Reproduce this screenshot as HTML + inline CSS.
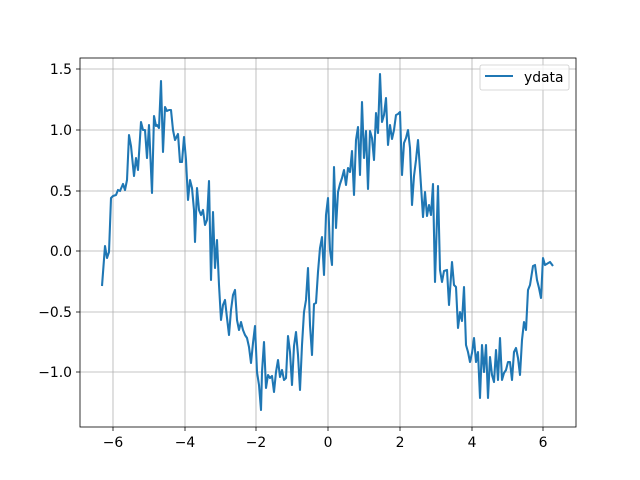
<!DOCTYPE html>
<html><head><meta charset="utf-8"><style>
body{margin:0;background:#fff;}
svg{display:block;font-family:"DejaVu Sans","Liberation Sans",sans-serif;}
</style></head><body>
<svg width="640" height="480" xmlns="http://www.w3.org/2000/svg">
<rect width="640" height="480" fill="#fff"/>
<g stroke="#b0b0b0" stroke-width="0.8">
<line x1="113" y1="58" x2="113" y2="427"/><line x1="185" y1="58" x2="185" y2="427"/><line x1="256" y1="58" x2="256" y2="427"/><line x1="328" y1="58" x2="328" y2="427"/><line x1="400" y1="58" x2="400" y2="427"/><line x1="472" y1="58" x2="472" y2="427"/><line x1="543" y1="58" x2="543" y2="427"/>
<line x1="80" y1="69" x2="576" y2="69"/><line x1="80" y1="130" x2="576" y2="130"/><line x1="80" y1="191" x2="576" y2="191"/><line x1="80" y1="251" x2="576" y2="251"/><line x1="80" y1="312" x2="576" y2="312"/><line x1="80" y1="372" x2="576" y2="372"/>
</g>
<polyline fill="none" stroke="#1f77b4" stroke-width="2.08" stroke-linejoin="round" points="102,286 105,246 107,258 109,252 111,198 113,196 116,195 118,190 120,191 123,184 125,190 127,180 129,135 131,146 134,176 136,158 138,170 141,122 143,130 145,130 147,158 149,125 152,193 154,116 156,126 157,125 159,128 161,81 163,152 165,107 167,111 169,110 171,110 173,130 175,140 178,134 180,162 182,162 184,137 186,160 188,200 190,180 192,188 194,210 195,242 197,188 199,210 201,215 203,210 205,225 207,220 209,181 211,280 213,212 215,268 217,240 219,285 221,320 223,305 225,300 227,318 229,335 231,310 233,295 235,290 237,320 239,330 241,322 243,330 245,335 247,338 249,347 251,363 253,343 255,326 257,372 259,385 261,410 262,372 264,342 266,388 268,375 270,378 272,376 274,392 276,372 278,360 280,377 282,370 284,380 286,378 288,336 290,352 292,385 294,346 296,332 298,355 300,390 302,345 304,312 306,300 308,268 310,325 312,355 314,304 316,303 318,272 320,248 322,237 324,275 326,215 328,198 330,250 332,265 334,167 336,228 338,192 340,184 342,178 344,170 346,185 348,168 350,172 352,151 354,195 356,140 358,127 360,175 362,102 364,158 366,131 368,189 370,131 372,138 374,160 376,113 378,133 380,74 382,122 384,115 386,98 388,145 390,125 392,139 394,130 396,115 398,114 400,112 402,175 404,143 406,138 408,130 410,148 412,205 414,176 416,160 418,140 420,170 423,217 425,192 427,216 429,205 431,215 433,184 435,282 438,186 440,270 442,282 444,271 447,270 449,305 452,262 454,285 456,287 458,328 460,312 462,321 464,287 466,345 468,352 470,362 472,353 474,338 476,362 478,352 480,398 482,345 484,372 486,345 488,398 490,357 492,375 494,382 496,350 498,380 500,338 502,380 504,373 506,370 508,362 510,362 512,380 514,352 516,348 518,358 520,375 522,340 524,322 526,330 528,290 530,285 533,266 535,265 537,280 539,288 541,298 543,258 545,265 550,262 553,266"/>
<rect x="80" y="58" width="496" height="369" fill="none" stroke="#000" stroke-width="0.8"/>
<g stroke="#000" stroke-width="0.8">
<line x1="113" y1="427" x2="113" y2="431"/><line x1="185" y1="427" x2="185" y2="431"/><line x1="256" y1="427" x2="256" y2="431"/><line x1="328" y1="427" x2="328" y2="431"/><line x1="400" y1="427" x2="400" y2="431"/><line x1="472" y1="427" x2="472" y2="431"/><line x1="543" y1="427" x2="543" y2="431"/>
<line x1="76" y1="69" x2="80" y2="69"/><line x1="76" y1="130" x2="80" y2="130"/><line x1="76" y1="191" x2="80" y2="191"/><line x1="76" y1="251" x2="80" y2="251"/><line x1="76" y1="312" x2="80" y2="312"/><line x1="76" y1="372" x2="80" y2="372"/>
</g>
<g font-size="13.9" fill="#000" text-anchor="middle">
<text x="113" y="447">−6</text><text x="185" y="447">−4</text><text x="256" y="447">−2</text><text x="328" y="447">0</text><text x="400" y="447">2</text><text x="472" y="447">4</text><text x="543" y="447">6</text>
</g>
<g font-size="13.9" fill="#000" text-anchor="end">
<text x="72" y="74">1.5</text><text x="72" y="135">1.0</text><text x="72" y="196">0.5</text><text x="72" y="256">0.0</text><text x="72" y="317">−0.5</text><text x="72" y="377">−1.0</text>
</g>
<rect x="480" y="65" width="89" height="25" rx="2" fill="#fff" fill-opacity="0.8" stroke="#ccc" stroke-width="0.8"/>
<line x1="485" y1="76" x2="513" y2="76" stroke="#1f77b4" stroke-width="2.08"/>
<text x="524" y="82" font-size="13.9" fill="#000">ydata</text>
</svg>
</body></html>
